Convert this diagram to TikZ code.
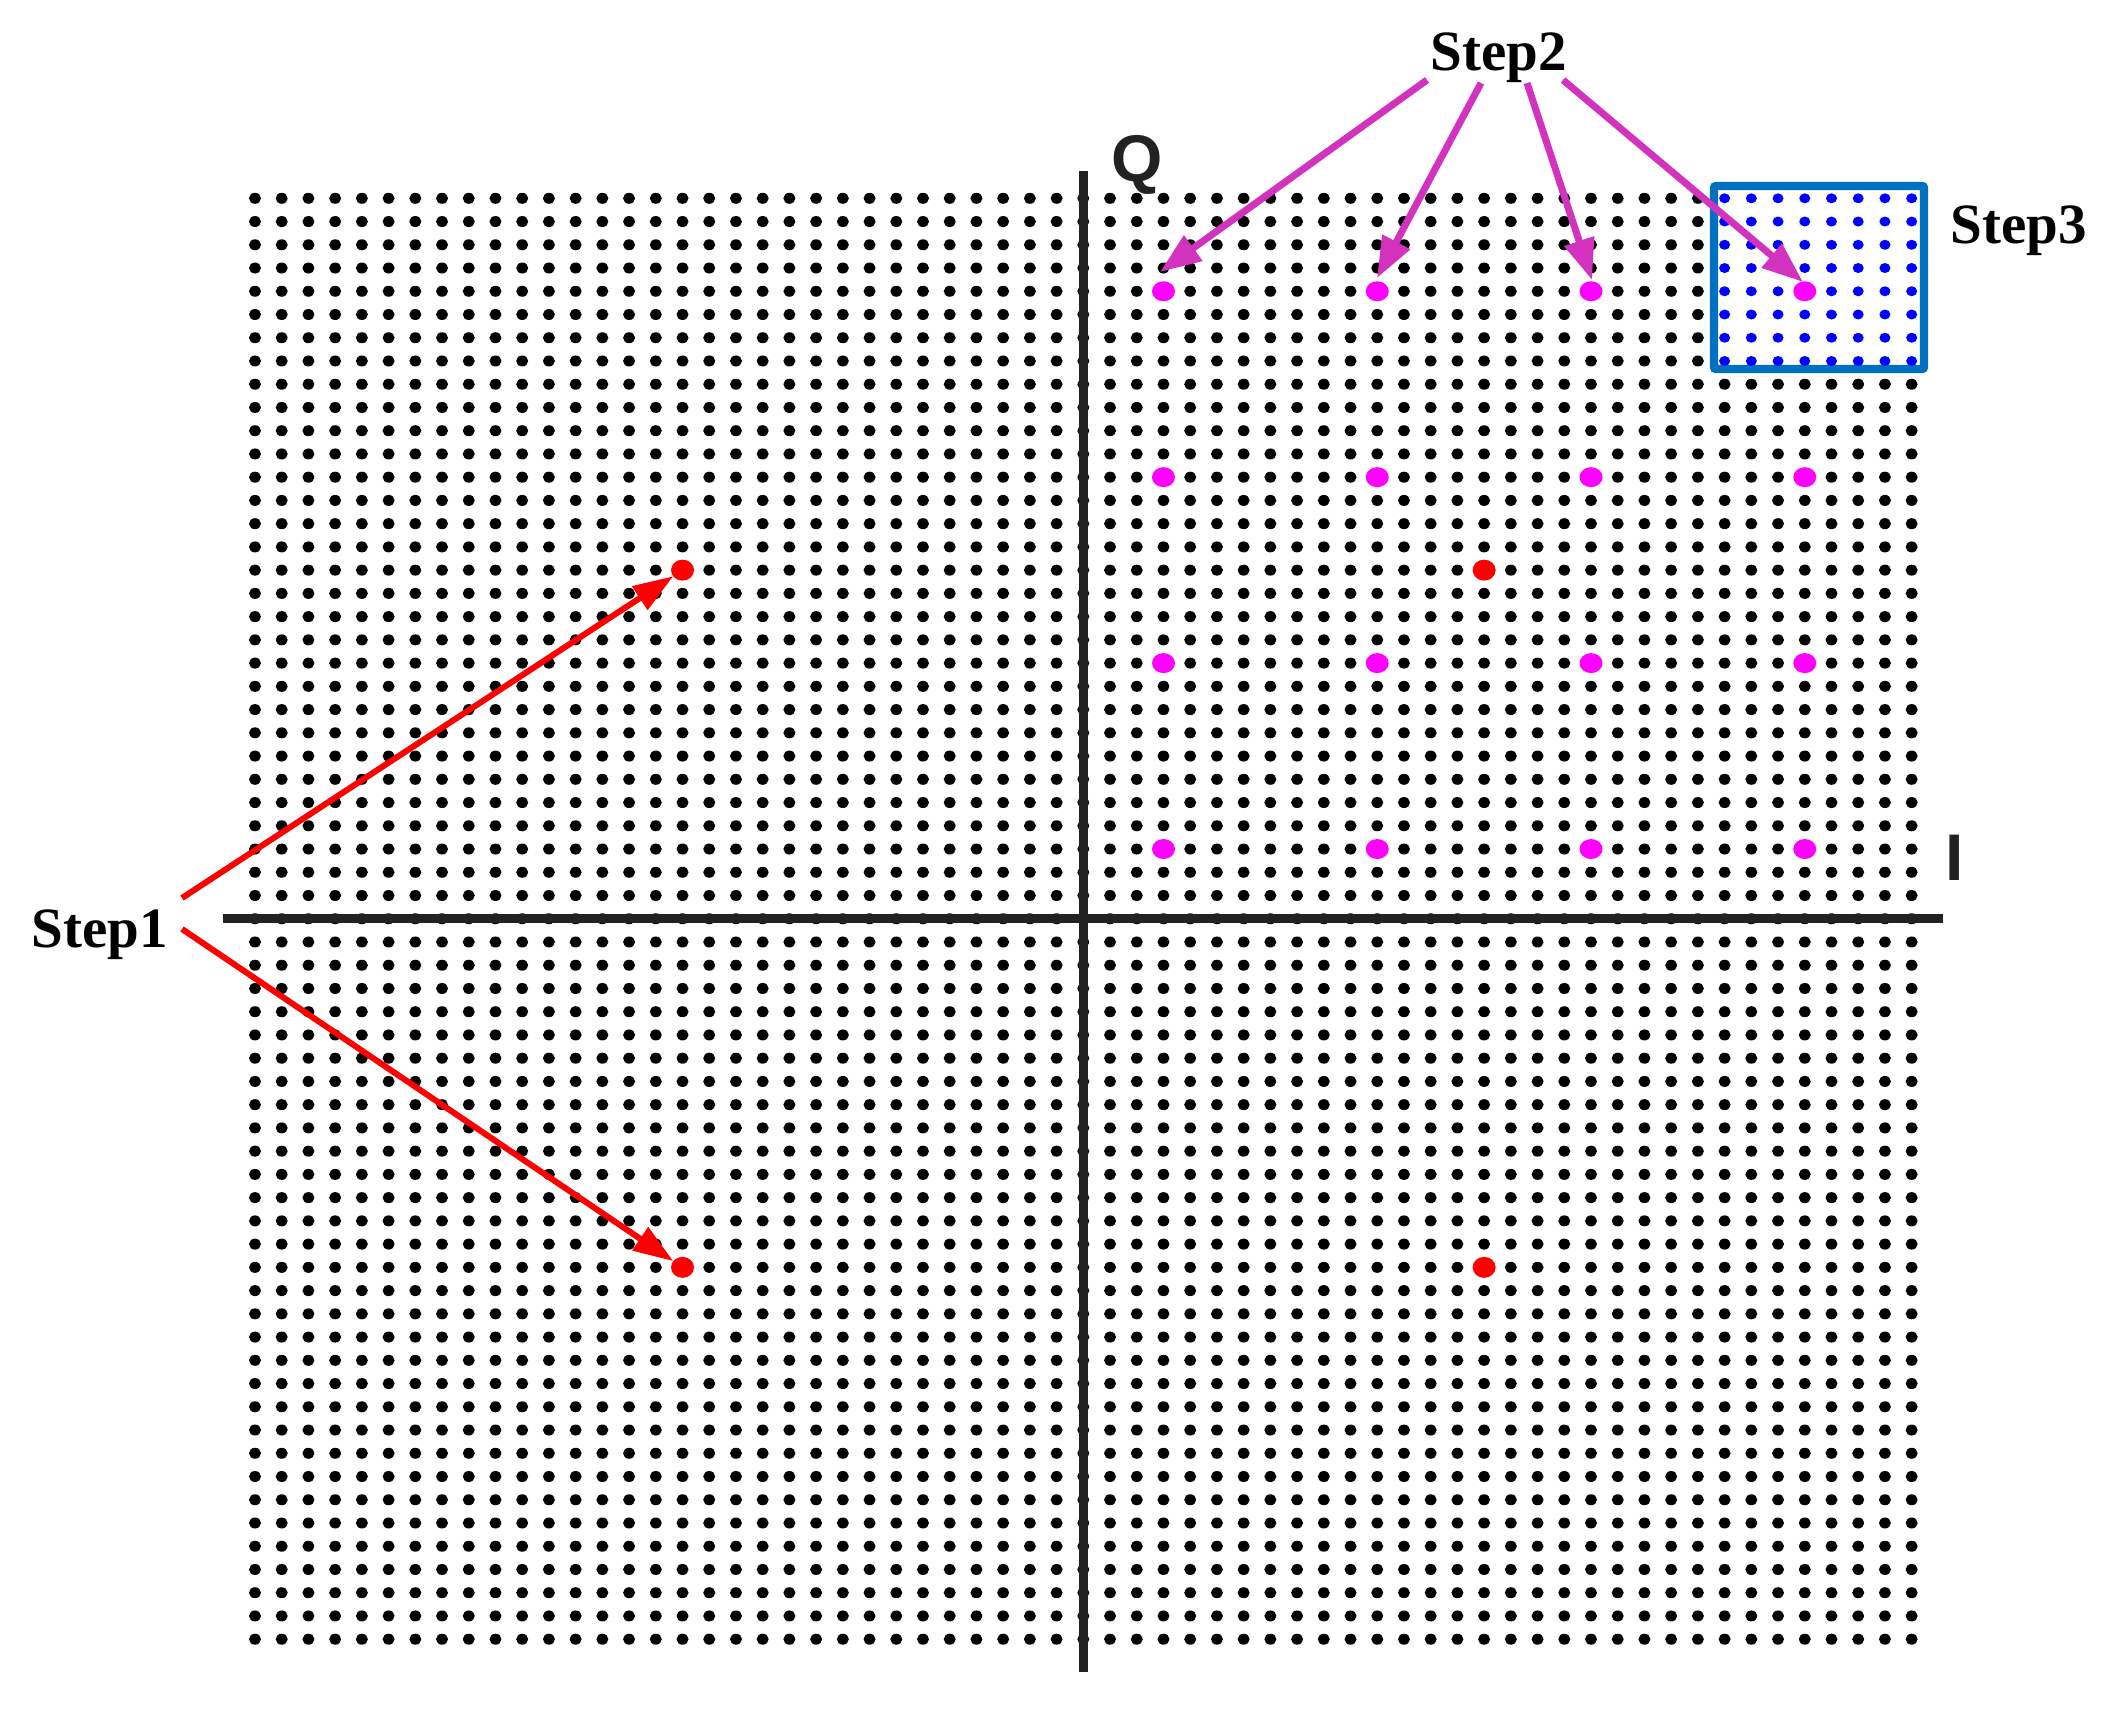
\documentclass[tikz,border=0pt]{standalone}
\usepackage{fontspec}
\setmainfont{Liberation Serif}
\newfontfamily\axisfont{Liberation Sans}
\usetikzlibrary{arrows.meta,shapes.geometric}
\definecolor{axisgray}{RGB}{34,34,34}
\definecolor{stepmag}{RGB}{210,50,190}
\definecolor{boxblue}{RGB}{0,112,192}
\definecolor{dotmag}{RGB}{255,0,255}
\tikzset{
  steplabel/.style={font=\fontsize{57}{60}\selectfont\bfseries, text=black, inner sep=0pt, anchor=base},
  axislabel/.style={font=\fontsize{66}{70}\selectfont\axisfont\bfseries, text=axisgray, inner sep=0pt, anchor=base},
  axisline/.style={draw=axisgray},
  mdot/.style={ellipse, fill=dotmag, minimum width=23pt, minimum height=20pt, inner sep=0pt, outer sep=0pt},
  rdot/.style={ellipse, fill=red, minimum width=23pt, minimum height=21pt, inner sep=0pt, outer sep=0pt},
  redarrow/.style={draw=red, line width=6pt, -{Triangle[length=40pt,width=27pt]}},
  magarrow/.style={draw=stepmag, line width=7pt, -{Triangle[length=41pt,width=30pt]}},
}
\begin{document}
\begin{tikzpicture}[x=1pt,y=-1pt]
\useasboundingbox (0,0) rectangle (2128,1716);
% black grid 63 x 63
\foreach \i in {0,...,62} {
  \fill[black] \foreach \j in {0,...,62} {
    ({255+\i*26.72},{198.3+\j*23.24}) ellipse [x radius=6pt, y radius=5.5pt] };
}
% axes
\draw[axisline, line width=8.7pt] (223,918.3) -- (1943,918.3);
\draw[axisline, line width=9.5pt] (1083.3,170.7) -- (1083.3,1672);
\node[axislabel] (Q) at (1137,181) {Q};
\node[axislabel] (I) at (1955,880) {I};
% step 3 box
\draw[draw=boxblue, fill=white, line width=8.3pt, rounded corners=2pt] (1714,186) rectangle (1924,369);
\foreach \i in {55,...,62} {
  \fill[blue] \foreach \j in {0,...,7} {
    ({255+\i*26.72},{198.3+\j*23.24}) ellipse [x radius=5.5pt, y radius=5pt] };
}
% magenta points
\node[mdot] (m11) at (1163.48,291.26) {};
\node[mdot] (m12) at (1377.24,291.26) {};
\node[mdot] (m13) at (1591,291.26) {};
\node[mdot] (m14) at (1804.76,291.26) {};
\node[mdot] (m21) at (1163.48,477.18) {};
\node[mdot] (m22) at (1377.24,477.18) {};
\node[mdot] (m23) at (1591,477.18) {};
\node[mdot] (m24) at (1804.76,477.18) {};
\node[mdot] (m31) at (1163.48,663.1) {};
\node[mdot] (m32) at (1377.24,663.1) {};
\node[mdot] (m33) at (1591,663.1) {};
\node[mdot] (m34) at (1804.76,663.1) {};
\node[mdot] (m41) at (1163.48,849.02) {};
\node[mdot] (m42) at (1377.24,849.02) {};
\node[mdot] (m43) at (1591,849.02) {};
\node[mdot] (m44) at (1804.76,849.02) {};
% red points
\node[rdot] (r1) at (682.52,570.14) {};
\node[rdot] (r2) at (682.52,1267.34) {};
\node[rdot] (r3) at (1484.12,570.14) {};
\node[rdot] (r4) at (1484.12,1267.34) {};
% labels
\node[steplabel] (s1) at (99.5,947) {Step1};
\node[steplabel] (s2) at (1498.5,70) {Step2};
\node[steplabel] (s3) at (2018.5,243) {Step3};
% arrow start and tip points
\coordinate (a1) at (182,898);
\coordinate (a2) at (182,929);
\coordinate (b1) at (1427,80);
\coordinate (b2) at (1481,83);
\coordinate (b3) at (1527,83);
\coordinate (b4) at (1563,80);
\coordinate (t1) at (1160,272);
\coordinate (t2) at (1377,278);
\coordinate (t3) at (1592,280);
\coordinate (t4) at (1803,282);
% arrows
\draw[redarrow] (a1) -- (r1);
\draw[redarrow] (a2) -- (r2);
\draw[magarrow] (b1) -- (t1);
\draw[magarrow] (b2) -- (t2);
\draw[magarrow] (b3) -- (t3);
\draw[magarrow] (b4) -- (t4);
\end{tikzpicture}
\end{document}
